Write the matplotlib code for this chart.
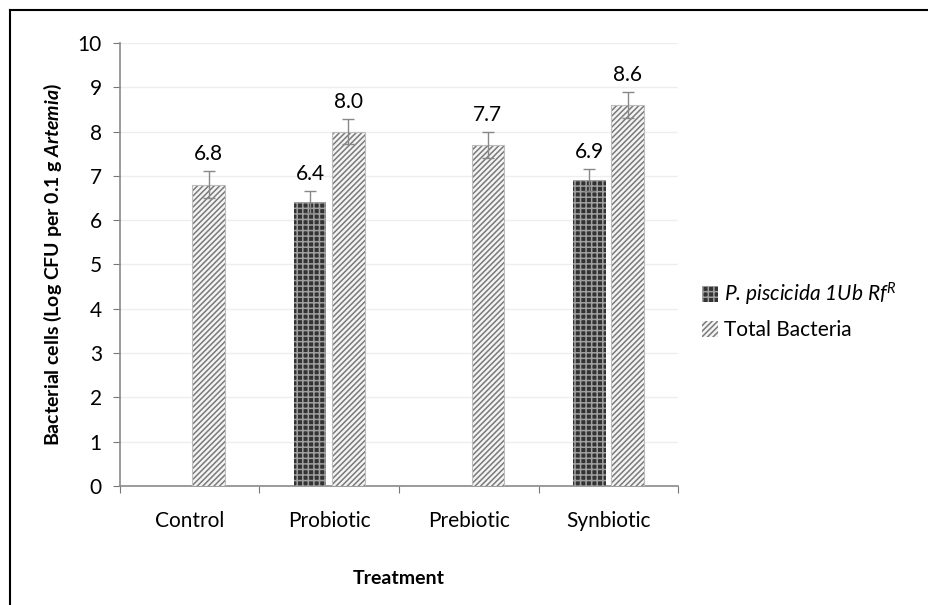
import numpy as np
import matplotlib
matplotlib.use("Agg")
import matplotlib.pyplot as plt
from matplotlib.patches import Patch
from matplotlib.lines import Line2D

# ---------- datos ----------
treatments = ["Control", "Probiotic", "Prebiotic", "Synbiotic"]
piscicida = [np.nan, 6.4, np.nan, 6.9]
piscicida_err = [0, 0.25, 0, 0.25]
total = [6.8, 8.0, 7.7, 8.6]
total_err = [0.3, 0.28, 0.3, 0.3]

plt.rcParams["font.family"] = ["Lato", "DejaVu Sans"]
plt.rcParams["mathtext.fontset"] = "custom"
plt.rcParams["mathtext.bf"] = "Lato:bold:italic"
plt.rcParams["mathtext.it"] = "Lato:italic"
plt.rcParams["mathtext.rm"] = "Lato"
plt.rcParams["hatch.linewidth"] = 1.1

fig = plt.figure(figsize=(9.29, 6.05), dpi=100)
ax = fig.add_axes([0.129, 0.197, 0.601, 0.732])

x = np.arange(len(treatments)) + 0.5
w = 0.235
off = 0.137

dark_face = "#333333"
dark_hatch = "#a0a0a0"
tot_face = "#f4f4f4"
tot_hatch = "#7a7a7a"

# ---------- barras ----------
for i in range(len(treatments)):
    if not np.isnan(piscicida[i]):
        ax.bar(x[i] - off, piscicida[i], w, color=dark_face, edgecolor=dark_hatch,
               hatch="+++", linewidth=0, zorder=3)
        ax.errorbar(x[i] - off, piscicida[i], yerr=piscicida_err[i], fmt="none",
                    ecolor="#888888", elinewidth=1, capsize=4, zorder=4)
        ax.annotate(f"{piscicida[i]:.1f}", (x[i] - off, piscicida[i] + piscicida_err[i]),
                    xytext=(0, 5), textcoords="offset points", ha="center", va="bottom",
                    fontsize=15)
    ax.bar(x[i] + off, total[i], w, color=tot_face, edgecolor=tot_hatch,
           hatch="//////", linewidth=0, zorder=3)
    ax.bar(x[i] + off, total[i], w, fill=False, edgecolor="#bdbdbd", linewidth=0.8, zorder=3)
    ax.errorbar(x[i] + off, total[i], yerr=total_err[i], fmt="none",
                ecolor="#888888", elinewidth=1, capsize=4, zorder=4)
    ax.annotate(f"{total[i]:.1f}", (x[i] + off, total[i] + total_err[i]),
                xytext=(0, 5), textcoords="offset points", ha="center", va="bottom",
                fontsize=15)

# ---------- ejes ----------
ax.set_xlim(0, 4)
ax.set_ylim(0, 10)
ax.set_yticks(range(0, 11))
ax.set_xticks(np.arange(0, 5))
ax.set_xticklabels([])
ax.set_xticks(x, minor=True)
ax.set_xticklabels(treatments, minor=True, fontsize=15)
ax.tick_params(axis="x", which="minor", length=0, pad=18)
ax.tick_params(axis="x", which="major", length=5, color="#777777", direction="out")
ax.tick_params(axis="y", length=5, color="#777777", direction="out", labelsize=15, pad=8)
ax.yaxis.grid(True, color="#eeeeee", linewidth=1, zorder=0)
for s in ["top", "right"]:
    ax.spines[s].set_visible(False)
for s in ["left", "bottom"]:
    ax.spines[s].set_color("#8a8a8a")
    ax.spines[s].set_linewidth(1.2)

ax.set_ylabel(r"Bacterial cells (Log CFU per 0.1 g $\mathbf{Artemia}$)",
              fontsize=14, fontweight="bold", labelpad=10)
ax.set_xlabel("Treatment", fontsize=14, fontweight="bold", labelpad=28)

# ---------- leyenda ----------
handles = [Patch(facecolor=dark_face, edgecolor=dark_hatch, hatch="+++", linewidth=0),
           Patch(facecolor=tot_face, edgecolor=tot_hatch, hatch="//////", linewidth=0)]
labels = [r"P. piscicida 1Ub Rf$^{R}$", "Total Bacteria"]
leg = fig.legend(handles, labels, loc="center left", bbox_to_anchor=(0.735, 0.487),
                 frameon=False, fontsize=15, handlelength=0.8, handleheight=0.8,
                 handletextpad=0.3, labelspacing=0.6)
leg.get_texts()[0].set_fontstyle("italic")

# ---------- borde ----------
fig.add_artist(Line2D([10 / 929, 10 / 929], [0, 1 - 10 / 605], color="black", lw=1.5))
fig.add_artist(Line2D([10 / 929, 1], [1 - 10 / 605, 1 - 10 / 605], color="black", lw=1.5))

fig.savefig("out.png", dpi=100)
